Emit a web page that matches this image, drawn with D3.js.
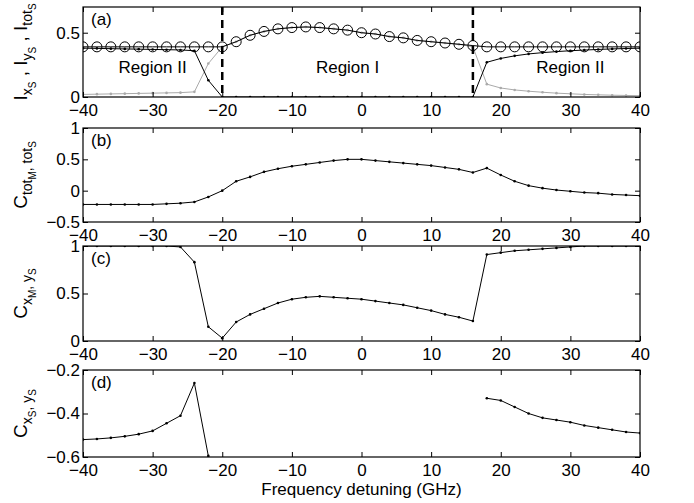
<!DOCTYPE html>
<html><head><meta charset="utf-8">
<script src="https://cdn.jsdelivr.net/npm/d3@7"></script>
<style>body{margin:0;background:#fff}text{font-family:"Liberation Sans",Arial,sans-serif}</style>
</head><body><svg id="c" width="694" height="503"></svg>
<script>
// detuning grid, 2 GHz steps
const freq = d3.range(-40, 41, 2);
const iTot = [0.39,0.39,0.39,0.39,0.39,0.39,0.39,0.39,0.39,0.39,0.39,0.43,0.48,0.51,0.53,0.54,0.545,0.54,0.53,0.52,0.50,0.49,0.47,0.46,0.44,0.43,0.42,0.41,0.40,0.39,0.39,0.39,0.39,0.39,0.39,0.39,0.39,0.39,0.39,0.39,0.39];
const iX = [0.38,0.378,0.376,0.374,0.372,0.37,0.368,0.366,0.36,0.13,0,0,0,0,0,0,0,0,0,0,0,0,0,0,0,0,0,0,0,0.27,0.30,0.32,0.335,0.345,0.353,0.36,0.365,0.37,0.374,0.377,0.38];
const iY = [0.02,0.022,0.024,0.026,0.028,0.03,0.032,0.034,0.04,0.26,0.39,0.43,0.48,0.51,0.53,0.54,0.545,0.54,0.53,0.52,0.50,0.49,0.47,0.46,0.44,0.43,0.42,0.41,0.39,0.1,0.07,0.055,0.045,0.037,0.03,0.025,0.02,0.017,0.014,0.012,0.01];
const cTot = [-0.22,-0.22,-0.22,-0.22,-0.22,-0.22,-0.21,-0.2,-0.18,-0.1,0.0,0.15,0.22,0.3,0.35,0.39,0.42,0.45,0.48,0.5,0.5,0.48,0.46,0.44,0.42,0.4,0.37,0.34,0.29,0.36,0.25,0.15,0.08,0.04,0.01,-0.01,-0.03,-0.04,-0.06,-0.07,-0.08];
const cXY = [1,1,1,1,1,1,1,0.99,0.83,0.15,0.03,0.2,0.28,0.34,0.4,0.44,0.46,0.47,0.46,0.45,0.44,0.42,0.4,0.38,0.35,0.32,0.28,0.25,0.21,0.91,0.93,0.95,0.96,0.97,0.98,0.99,1,1,1,1,1];
const cXYs = [-0.52,-0.517,-0.512,-0.505,-0.495,-0.48,-0.445,-0.41,-0.26,-0.595,null,null,null,null,null,null,null,null,null,null,null,null,null,null,null,null,null,null,null,-0.33,-0.34,-0.37,-0.40,-0.42,-0.43,-0.44,-0.455,-0.465,-0.475,-0.485,-0.49];
const xTicks = [-40,-30,-20,-10,0,10,20,30,40];
const boundaries = [-20, 16];

const svg = d3.select('#c');
const x = d3.scaleLinear().domain([-40, 40]).range([83, 640]);
const panels = [
  {top: 7, bottom: 97, dom: [0, 0.7], ticks: [0, 0.5], tag: '(a)'},
  {top: 128, bottom: 222, dom: [-0.5, 1], ticks: [-0.5, 0, 0.5, 1], tag: '(b)'},
  {top: 246, bottom: 341, dom: [0, 1], ticks: [0, 0.5, 1], tag: '(c)'},
  {top: 370, bottom: 457, dom: [-0.6, -0.2], ticks: [-0.6, -0.4, -0.2], tag: '(d)'}
];
const fmt = v => String(v).replace('-', '\u2212');

panels.forEach((p, i) => {
  const y = d3.scaleLinear().domain(p.dom).range([p.bottom, p.top]);
  p.y = y;
  const g = svg.append('g');
  g.append('defs').append('clipPath').attr('id', 'cl' + i)
    .append('rect').attr('x', x(-40)).attr('y', p.top).attr('width', x(40) - x(-40)).attr('height', p.bottom - p.top);
  p.plot = g.append('g').attr('clip-path', `url(#cl${i})`);
  const ax = (gen, tr) => g.append('g').attr('transform', tr).call(gen)
    .call(a => a.select('.domain').remove())
    .call(a => a.selectAll('line').attr('stroke', '#000'))
    .call(a => a.selectAll('text').style('font-size', '17px').attr('fill', '#000'));
  ax(d3.axisBottom(x).tickValues(xTicks).tickSize(-5).tickPadding(7).tickFormat(fmt), `translate(0,${p.bottom})`);
  ax(d3.axisTop(x).tickValues(xTicks).tickSize(-5).tickFormat(''), `translate(0,${p.top})`);
  ax(d3.axisLeft(y).tickValues(p.ticks).tickSize(-5).tickPadding(3).tickFormat(fmt), `translate(${x(-40)},0)`);
  ax(d3.axisRight(y).tickValues(p.ticks).tickSize(-5).tickFormat(''), `translate(${x(40)},0)`);
  g.append('rect').attr('x', x(-40)).attr('y', p.top).attr('width', x(40) - x(-40)).attr('height', p.bottom - p.top)
    .attr('fill', 'none').attr('stroke', '#000').attr('stroke-width', 1.2);
  g.append('text').attr('x', x(-40) + 8).attr('y', p.top + 18).style('font-size', '17px').text(p.tag);
});

function series(p, vals, color, dot) {
  const pts = freq.map((f, i) => ({f, v: vals[i]}));
  p.plot.append('path').datum(pts)
    .attr('d', d3.line().defined(d => d.v != null).x(d => x(d.f)).y(d => p.y(d.v)))
    .attr('fill', 'none').attr('stroke', color).attr('stroke-width', 1);
  if (dot) p.plot.selectAll(null).data(pts.filter(d => d.v != null)).join('circle')
    .attr('cx', d => x(d.f)).attr('cy', d => p.y(d.v)).attr('r', 1.3).attr('fill', color);
}

const pa = panels[0];
series(pa, iY, '#aaa', true);
series(pa, iX, '#000', true);
series(pa, iTot, '#000', false);
pa.plot.selectAll(null).data(freq.map((f, i) => ({f, v: iTot[i]}))).join('circle')
  .attr('cx', d => x(d.f)).attr('cy', d => pa.y(d.v)).attr('r', 5)
  .attr('fill', 'none').attr('stroke', '#000').attr('stroke-width', 1);
boundaries.forEach(b => pa.plot.append('line').attr('x1', x(b)).attr('x2', x(b))
  .attr('y1', pa.top).attr('y2', pa.bottom).attr('stroke', '#000').attr('stroke-width', 2.5).attr('stroke-dasharray', '8,5'));
[['Region II', -30], ['Region I', -2], ['Region II', 30]].forEach(([t, f]) =>
  svg.append('text').attr('x', x(f)).attr('y', pa.y(0.19)).attr('text-anchor', 'middle').style('font-size', '17px').text(t));

series(panels[1], cTot, '#000', true);
series(panels[2], cXY, '#000', true);
series(panels[3], cXYs, '#000', true);

// y labels with subscripts
function ylabel(p, parts, x0) {
  const t = svg.append('text').attr('transform', `translate(${x0},${(p.top + p.bottom) / 2}) rotate(-90)`)
    .attr('text-anchor', 'middle').style('font-size', '19px');
  parts.forEach(([s, lvl]) => {
    const sz = lvl === 0 ? 19 : lvl === 1 ? 14 : 10;
    t.append('tspan').text(s).style('font-size', sz + 'px')
      .attr('baseline-shift', lvl === 0 ? '0' : lvl === 1 ? '-5' : '-9');
  });
}
ylabel(panels[0], [['I', 0], ['x', 1], ['S', 2], [' , I', 0], ['y', 1], ['S', 2], [' , I', 0], ['tot', 1], ['S', 2]], 27);
ylabel(panels[1], [['C', 0], ['tot', 1], ['M', 2], [', tot', 1], ['S', 2]], 27);
ylabel(panels[2], [['C', 0], ['x', 1], ['M', 2], [', y', 1], ['S', 2]], 27);
ylabel(panels[3], [['C', 0], ['x', 1], ['S', 2], [', y', 1], ['S', 2]], 27);

svg.append('text').attr('x', (x(-40) + x(40)) / 2).attr('y', 495).attr('text-anchor', 'middle')
  .style('font-size', '17px').text('Frequency detuning (GHz)');
</script></body></html>
